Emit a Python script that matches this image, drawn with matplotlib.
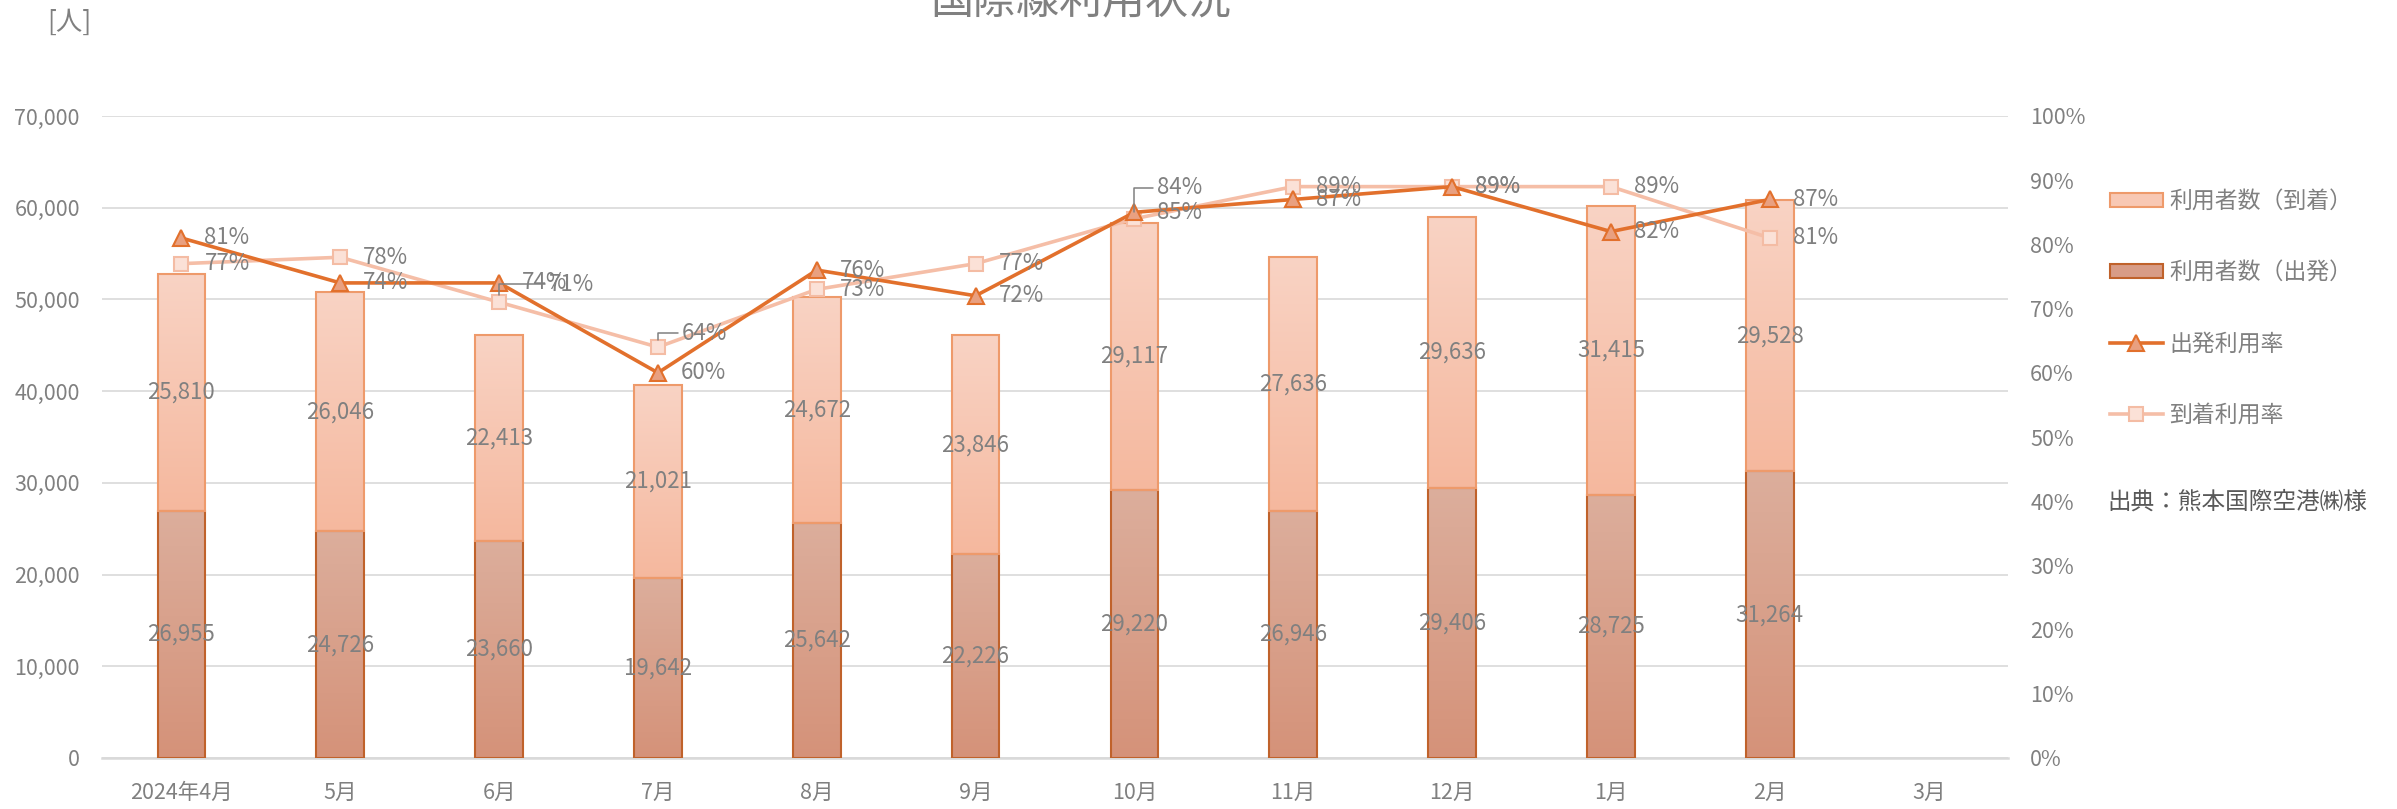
import numpy as np
import matplotlib
matplotlib.use('Agg')
import matplotlib.pyplot as plt
from matplotlib.colors import LinearSegmentedColormap
from matplotlib.lines import Line2D
from matplotlib.patches import Patch
from matplotlib.ticker import FuncFormatter, MultipleLocator

plt.rcParams['font.family'] = ['Noto Sans CJK JP', 'DejaVu Sans']

# ---- data ----
months = ['2024年4月', '5月', '6月', '7月', '8月', '9月', '10月', '11月', '12月', '1月', '2月', '3月']
departures = [26955, 24726, 23660, 19642, 25642, 22226, 29220, 26946, 29406, 28725, 31264]
arrivals = [25810, 26046, 22413, 21021, 24672, 23846, 29117, 27636, 29636, 31415, 29528]
dep_rate = [81, 74, 74, 60, 76, 72, 85, 87, 89, 82, 87]
arr_rate = [77, 78, 71, 64, 73, 77, 84, 89, 89, 89, 81]

title = '国際線利用状況'
unit = '[人]'
source = '出典：熊本国際空港㈱様'
legend_labels = ['利用者数（到着）', '利用者数（出発）', '出発利用率', '到着利用率']

# ---- style ----
W, H = 2397, 809
GRAY = '#808080'
ARR_TOP, ARR_BOT, ARR_EDGE = '#F9D3C4', '#F5B89E', '#EE9A6B'
DEP_TOP, DEP_BOT, DEP_EDGE = '#DCAE9C', '#D59279', '#C0622B'
DEP_LINE, DEP_MFC = '#E2702C', '#E9A080'
ARR_LINE, ARR_MFC, ARR_MEC = '#F5BEA7', '#FBE1D7', '#F4BCA4'

fig = plt.figure(figsize=(W / 100, H / 100), dpi=100)
ax = fig.add_axes([102 / W, 51 / H, 1906 / W, 642 / H])

n = len(departures)
x = np.arange(n)
bw = 0.30

dep_bars = ax.bar(x, departures, bw, facecolor='none', edgecolor=DEP_EDGE, linewidth=1.5, zorder=3)
arr_bars = ax.bar(x, arrivals, bw, bottom=departures, facecolor='none', edgecolor=ARR_EDGE, linewidth=1.5, zorder=3)


def gradient_fill(bars, ctop, cbot):
    cmap = LinearSegmentedColormap.from_list('g', [cbot, ctop])
    grad = np.linspace(0, 1, 256).reshape(-1, 1)
    for b in bars:
        x0, y0, w, h = b.get_x(), b.get_y(), b.get_width(), b.get_height()
        im = ax.imshow(grad, extent=[x0, x0 + w, y0, y0 + h], origin='lower',
                       aspect='auto', cmap=cmap, zorder=2.5, interpolation='bilinear')
        im.set_clip_path(b)


gradient_fill(dep_bars, DEP_TOP, DEP_BOT)
gradient_fill(arr_bars, ARR_TOP, ARR_BOT)

ax.bar_label(dep_bars, labels=[f'{v:,}' for v in departures], label_type='center',
             fontsize=16, color=GRAY, zorder=5)
ax.bar_label(arr_bars, labels=[f'{v:,}' for v in arrivals], label_type='center',
             fontsize=16, color=GRAY, zorder=5)

ax.set_xlim(-0.5, len(months) - 0.5)
ax.set_ylim(0, 70000)
ax.yaxis.set_major_locator(MultipleLocator(10000))
ax.yaxis.set_major_formatter(FuncFormatter(lambda v, p: f'{int(v):,}'))
ax.set_xticks(np.arange(len(months)))
ax.set_xticklabels(months)
ax.grid(axis='y', color='#D9D9D9', linewidth=1.2)
ax.set_axisbelow(True)
for s in ['top', 'right', 'left']:
    ax.spines[s].set_visible(False)
ax.spines['bottom'].set_color('#D9D9D9')
ax.spines['bottom'].set_linewidth(1.8)
ax.tick_params(axis='y', length=0, pad=16, labelsize=15.5, labelcolor=GRAY)
ax.tick_params(axis='x', length=0, pad=17, labelsize=15.5, labelcolor=GRAY)

ax2 = ax.twinx()
ax2.set_ylim(0, 100)
ax2.yaxis.set_major_locator(MultipleLocator(10))
ax2.yaxis.set_major_formatter(FuncFormatter(lambda v, p: f'{int(round(v))}%'))
for s in ax2.spines.values():
    s.set_visible(False)
ax2.tick_params(axis='y', length=0, pad=16, labelsize=15.5, labelcolor=GRAY)

ax2.plot(x, arr_rate, color=ARR_LINE, lw=2.6, marker='s', ms=10.5, mfc=ARR_MFC, mec=ARR_MEC, mew=1.5, zorder=4)
ax2.plot(x, dep_rate, color=DEP_LINE, lw=2.6, marker='^', ms=11, mfc=DEP_MFC, mec=DEP_LINE, mew=1.5, zorder=5)

# label offsets in pixels (dx, dy)
dep_off = [(23, 0)] * n
arr_off = [(23, 0)] * n
arr_off = list(arr_off)
arr_off[2] = (50, 18)
arr_off[3] = (24, 14)
arr_off[6] = (23, 31)
leader = {2, 3, 6}

for i in range(n):
    ax2.annotate(f'{dep_rate[i]}%', (x[i], dep_rate[i]), xytext=dep_off[i], textcoords='offset pixels',
                 ha='left', va='center', fontsize=16, color=GRAY, zorder=6)
    kw = {}
    if i in leader:
        kw['arrowprops'] = dict(arrowstyle='-', color=GRAY, lw=1.1, shrinkA=1, shrinkB=5,
                                connectionstyle='angle,angleA=0,angleB=90,rad=0')
    ax2.annotate(f'{arr_rate[i]}%', (x[i], arr_rate[i]), xytext=arr_off[i], textcoords='offset pixels',
                 ha='left', va='center', fontsize=16, color=GRAY, zorder=6, **kw)

# legend
handles = [
    Patch(facecolor='#F8C8B4', edgecolor=ARR_EDGE, linewidth=1.5),
    Patch(facecolor='#D89C86', edgecolor=DEP_EDGE, linewidth=1.5),
    Line2D([], [], color=DEP_LINE, lw=2.6, marker='^', ms=11, mfc=DEP_MFC, mec=DEP_LINE, mew=1.5),
    Line2D([], [], color=ARR_LINE, lw=2.6, marker='s', ms=10.5, mfc=ARR_MFC, mec=ARR_MEC, mew=1.5),
]
fig.legend(handles, legend_labels, loc='upper left', bbox_to_anchor=(2110 / W, 1 - 190 / H),
           frameon=False, fontsize=16.5, labelcolor=GRAY, borderpad=0, borderaxespad=0,
           handlelength=2.3, handleheight=0.6, handletextpad=0.3, labelspacing=2.1)

fig.text(2107 / W, 1 - 502 / H, source, ha='left', va='center', fontsize=17, color='#595959')
fig.text(1081 / W, 1 - 14 / H, title, ha='center', va='baseline', fontsize=31, color=GRAY)
fig.text(69.5 / W, 1 - 22 / H, unit, ha='center', va='center', fontsize=19, color=GRAY)

fig.savefig('out.png', dpi=100)
